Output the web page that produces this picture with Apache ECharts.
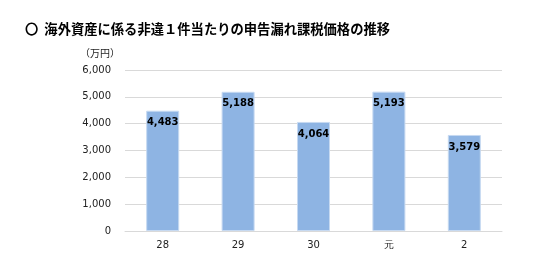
<!DOCTYPE html>
<html><head><meta charset="utf-8">
<script src="https://cdn.jsdelivr.net/npm/echarts@6/dist/echarts.min.js"></script>
<style>html,body{margin:0;padding:0;background:#fff}#c{width:546px;height:276px}</style>
</head><body><div id="c"></div>
<script>
const categories = ['28', '29', '30', '元', '2'];
const values = [4483, 5188, 4064, 5193, 3579];
const yTicks = [0, 1000, 2000, 3000, 4000, 5000, 6000];
const titleText = '〇  海外資産に係る非違１件当たりの申告漏れ課税価格の推移';
const unitText = '（万円）';

const chart = echarts.init(document.getElementById('c'));
chart.setOption({
  animation: false,
  backgroundColor: '#fff',
  title: {
    text: titleText, left: 20, top: 17,
    textStyle: { fontSize: 13.3, fontWeight: 'bold', color: '#000', fontFamily: 'Noto Sans CJK JP' }
  },
  grid: { left: 125, right: 44, top: 70, bottom: 45 },
  xAxis: {
    type: 'category', data: categories,
    axisLine: { lineStyle: { color: '#d9d9d9' } },
    axisTick: { show: false },
    axisLabel: { color: '#222', fontSize: 10, margin: 9, fontFamily: 'DejaVu Sans' }
  },
  yAxis: {
    type: 'value', min: yTicks[0], max: yTicks[yTicks.length - 1], interval: 1000,
    name: unitText, nameLocation: 'end', nameGap: 12,
    nameTextStyle: { color: '#222', fontSize: 10, align: 'right', padding: [0, 5, 0, 0], fontFamily: 'Noto Sans CJK JP' },
    axisLine: { show: false }, axisTick: { show: false },
    axisLabel: { color: '#222', fontSize: 10, margin: 14, fontFamily: 'DejaVu Sans',
      formatter: v => v.toLocaleString('en-US') },
    splitLine: { lineStyle: { color: '#d9d9d9', width: 1 } }
  },
  series: [{
    type: 'bar', data: values, barWidth: 33,
    itemStyle: { color: '#8eb4e3', borderColor: '#c6d9f1', borderWidth: 1 },
    label: { show: true, position: 'insideTop', distance: 7, color: '#000', fontWeight: 'bold', fontSize: 10,
      fontFamily: 'DejaVu Sans', formatter: p => p.value.toLocaleString('en-US') }
  }]
});
</script></body></html>
